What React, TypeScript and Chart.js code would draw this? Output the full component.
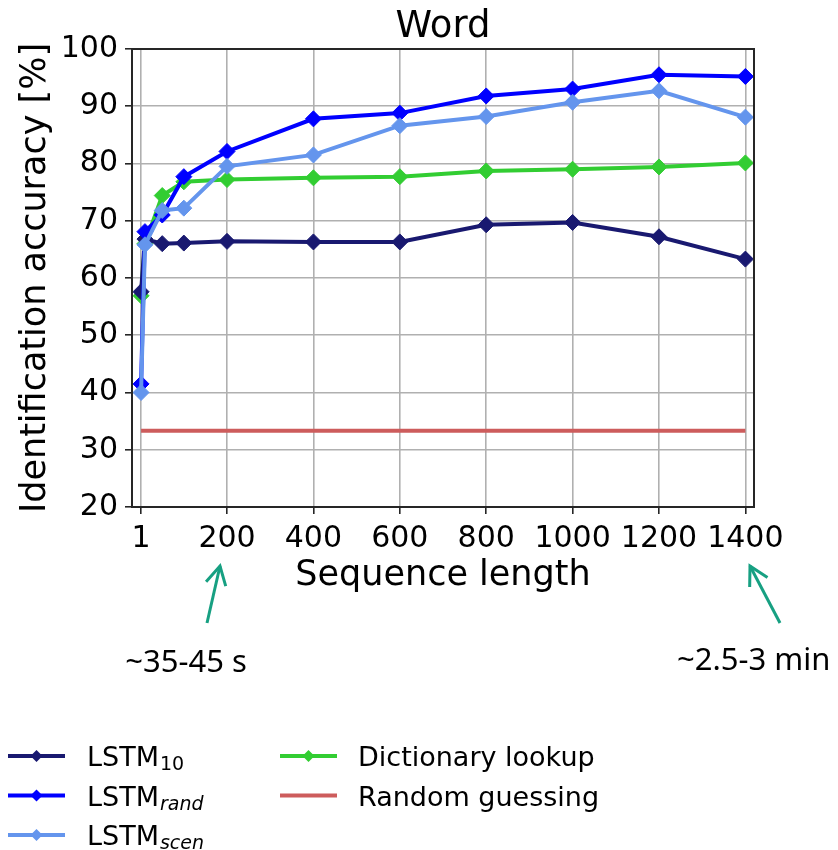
import React, { useEffect, useRef } from "react";
import { Chart, registerables } from "chart.js";

Chart.register(...registerables);

// ---- data ----
const sequenceLengths = [1, 10, 50, 100, 200, 400, 600, 800, 1000, 1200, 1400];
const lstm10 = [57.6, 66.8, 66.0, 66.1, 66.4, 66.3, 66.3, 69.3, 69.7, 67.2, 63.3];
const lstmRand = [41.5, 68.1, 71.0, 77.7, 82.1, 87.8, 88.8, 91.8, 93.0, 95.5, 95.2];
const lstmScen = [40.0, 65.8, 71.8, 72.2, 79.5, 81.5, 86.6, 88.2, 90.7, 92.7, 88.1];
const dictionaryLookup = [56.9, 66.0, 74.4, 76.8, 77.2, 77.5, 77.7, 78.7, 79.0, 79.4, 80.1];
const randomGuessX = [1, 1400];
const randomGuess = [33.33, 33.33];
const xTickValues = [1, 200, 400, 600, 800, 1000, 1200, 1400];

const chartTitle = "Word";
const xAxisTitle = "Sequence length";
const yAxisTitle = "Identification accuracy [%]";
const noteLeft = "~35-45 s";
const noteRight = "~2.5-3 min";

const COLORS = {
  lstm10: "#191970",
  rand: "#0000ff",
  scen: "#6495ed",
  dict: "#32cd32",
  random: "#cd5c5c",
  arrow: "#17a082",
};

const legendItems = [
  { base: "LSTM", sub: "10", italic: false, color: COLORS.lstm10, marker: true, col: 0, row: 0 },
  { base: "LSTM", sub: "rand", italic: true, color: COLORS.rand, marker: true, col: 0, row: 1 },
  { base: "LSTM", sub: "scen", italic: true, color: COLORS.scen, marker: true, col: 0, row: 2 },
  { base: "Dictionary lookup", sub: "", italic: false, color: COLORS.dict, marker: true, col: 1, row: 0 },
  { base: "Random guessing", sub: "", italic: false, color: COLORS.random, marker: false, col: 1, row: 1 },
];

const FONT = "'DejaVu Sans', sans-serif";
const NOTE_FONT = "'Noto Sans', 'Open Sans', sans-serif";

function zip(xs: number[], ys: number[]) {
  return xs.map((x, i) => ({ x, y: ys[i] }));
}

function drawDiamond(ctx: CanvasRenderingContext2D, x: number, y: number, r: number, color: string) {
  ctx.beginPath();
  ctx.moveTo(x - r, y);
  ctx.lineTo(x, y - r);
  ctx.lineTo(x + r, y);
  ctx.lineTo(x, y + r);
  ctx.closePath();
  ctx.fillStyle = color;
  ctx.fill();
}

function drawArrow(ctx: CanvasRenderingContext2D, x0: number, y0: number, x1: number, y1: number) {
  ctx.save();
  ctx.strokeStyle = COLORS.arrow;
  ctx.lineWidth = 3;
  ctx.lineCap = "butt";
  ctx.beginPath();
  ctx.moveTo(x0, y0);
  ctx.lineTo(x1, y1);
  ctx.stroke();
  const ang = Math.atan2(y0 - y1, x0 - x1);
  const len = 21;
  const spread = 0.5;
  ctx.beginPath();
  ctx.moveTo(x1 + Math.cos(ang - spread) * len, y1 + Math.sin(ang - spread) * len);
  ctx.lineTo(x1, y1);
  ctx.lineTo(x1 + Math.cos(ang + spread) * len, y1 + Math.sin(ang + spread) * len);
  ctx.stroke();
  ctx.restore();
}

const decorPlugin = {
  id: "decor",
  afterDraw(chart: any) {
    const ctx: CanvasRenderingContext2D = chart.ctx;
    const a = chart.chartArea;
    ctx.save();
    // frame (all four spines)
    ctx.strokeStyle = "#262626";
    ctx.lineWidth = 2;
    ctx.strokeRect(a.left, a.top, a.right - a.left, a.bottom - a.top);

    // title
    ctx.fillStyle = "#000";
    ctx.font = `37px ${FONT}`;
    ctx.textAlign = "center";
    ctx.textBaseline = "alphabetic";
    ctx.fillText(chartTitle, (a.left + a.right) / 2, 37);

    // annotations
    drawArrow(ctx, a.left + 75, 623, a.left + 88, 566);
    drawArrow(ctx, a.left + 648, 623, a.left + 618, 566);
    ctx.fillStyle = "#000";
    ctx.font = `31px ${NOTE_FONT}`;
    ctx.textAlign = "center";
    ctx.fillText(noteLeft, 186, 672);
    ctx.textAlign = "left";
    ctx.fillText(noteRight, 677, 670);

    // legend
    const colLine = [8, 280];
    const colText = [87, 358];
    const rowY = [756, 795.5, 835];
    legendItems.forEach((it) => {
      const y = rowY[it.row];
      const lx = colLine[it.col];
      ctx.strokeStyle = it.color;
      ctx.lineWidth = 4;
      ctx.beginPath();
      ctx.moveTo(lx, y);
      ctx.lineTo(lx + 57, y);
      ctx.stroke();
      if (it.marker) drawDiamond(ctx, lx + 28.5, y, 6, it.color);
      ctx.fillStyle = "#000";
      ctx.textAlign = "left";
      ctx.textBaseline = "alphabetic";
      ctx.font = `27px ${FONT}`;
      const tx = colText[it.col];
      const by = y + 10;
      ctx.fillText(it.base, tx, by);
      if (it.sub) {
        const w = ctx.measureText(it.base).width;
        ctx.font = `${it.italic ? "italic " : ""}19px ${FONT}`;
        ctx.fillText(it.sub, tx + w + 1, by + 4);
      }
    });
    ctx.restore();
  },
};

export default function App() {
  const ref = useRef<HTMLCanvasElement | null>(null);

  useEffect(() => {
    if (!ref.current) return;
    const line = (label: string, ys: number[], color: string, order: number) => ({
      label,
      data: zip(sequenceLengths, ys),
      borderColor: color,
      backgroundColor: color,
      borderWidth: 4,
      pointStyle: "rectRot",
      pointRadius: 8,
      pointBorderWidth: 1,
      pointBorderColor: color,
      pointBackgroundColor: color,
      tension: 0,
      order,
    });
    const chart = new Chart(ref.current, {
      type: "line",
      data: {
        datasets: [
          line("LSTM10", lstm10, COLORS.lstm10, 3),
          line("LSTMrand", lstmRand, COLORS.rand, 2),
          line("LSTMscen", lstmScen, COLORS.scen, 1),
          line("Dictionary lookup", dictionaryLookup, COLORS.dict, 4),
          {
            label: "Random guessing",
            data: zip(randomGuessX, randomGuess),
            borderColor: COLORS.random,
            backgroundColor: COLORS.random,
            borderWidth: 4,
            pointRadius: 0,
            tension: 0,
            order: 5,
          },
        ] as any,
      },
      options: {
        responsive: false,
        animation: false,
        layout: { padding: { top: 49, right: 84, bottom: 257, left: 0 } },
        plugins: {
          legend: { display: false },
          title: { display: false },
          tooltip: { enabled: false },
        },
        scales: {
          x: {
            type: "linear",
            min: -20,
            max: 1420,
            afterBuildTicks: (scale: any) => {
              scale.ticks = xTickValues.map((v) => ({ value: v }));
            },
            afterFit: (scale: any) => {
              scale.height = 86;
            },
            ticks: {
              autoSkip: false,
              maxRotation: 0,
              color: "#000",
              padding: 7,
              font: { family: FONT, size: 30 },
              callback: (v: any) => String(v),
            },
            grid: {
              color: "#b0b0b0",
              lineWidth: 1.6,
              drawTicks: true,
              tickLength: 7,
              tickColor: "#262626",
              tickWidth: 1.6,
            },
            border: { display: false },
            title: {
              display: true,
              text: xAxisTitle,
              color: "#000",
              font: { family: FONT, size: 35, lineHeight: 1 },
              padding: { top: 0, bottom: 0 },
            },
          },
          y: {
            type: "linear",
            min: 20,
            max: 100,
            afterFit: (scale: any) => {
              scale.width = 132;
            },
            ticks: {
              stepSize: 10,
              color: "#000",
              padding: 7,
              font: { family: FONT, size: 30 },
            },
            grid: {
              color: "#b0b0b0",
              lineWidth: 1.6,
              drawTicks: true,
              tickLength: 7,
              tickColor: "#262626",
              tickWidth: 1.6,
            },
            border: { display: false },
            title: {
              display: true,
              text: yAxisTitle,
              color: "#000",
              font: { family: FONT, size: 35, lineHeight: 1 },
              padding: { top: 18, bottom: 0 },
            },
          },
        },
      } as any,
      plugins: [decorPlugin],
    });
    return () => chart.destroy();
  }, []);

  return (
    <div style={{ position: "absolute", left: 0, top: 0, width: 838, height: 850, background: "#fff" }}>
      <canvas ref={ref} width={838} height={850} style={{ display: "block" }} />
    </div>
  );
}
